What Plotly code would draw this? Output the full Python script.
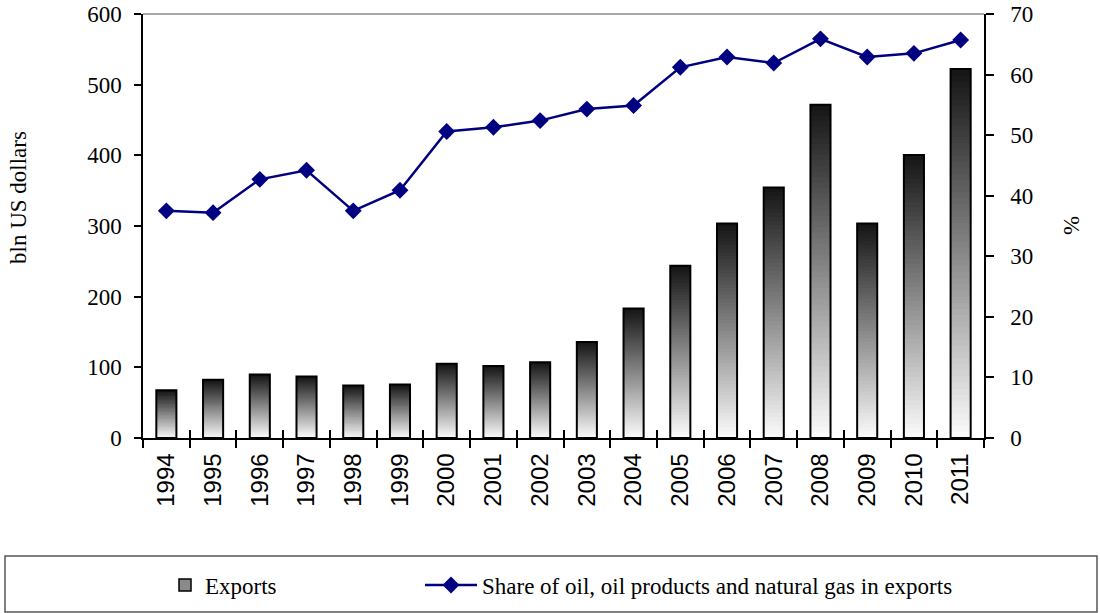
import plotly.graph_objects as go

# Russian exports, bln US dollars, and the share of oil, oil products and gas (%)
years = ["1994", "1995", "1996", "1997", "1998", "1999", "2000", "2001", "2002",
         "2003", "2004", "2005", "2006", "2007", "2008", "2009", "2010", "2011"]
exports = [67.4, 82.4, 89.7, 86.9, 74.4, 75.6, 105.0, 101.9, 107.3,
           135.9, 183.2, 243.8, 303.6, 354.4, 471.6, 303.4, 400.4, 522.0]
oil_gas_share = [37.5, 37.2, 42.7, 44.2, 37.5, 40.9, 50.6, 51.3, 52.4,
                 54.3, 54.9, 61.2, 62.9, 61.9, 65.9, 62.9, 63.5, 65.7]

left_ticks = [0, 100, 200, 300, 400, 500, 600]
right_ticks = [0, 10, 20, 30, 40, 50, 60, 70]

SERIF = "Liberation Serif, Times New Roman, serif"
SANS = "Liberation Sans, Arial, sans-serif"

# figure geometry (pixels)
W, H = 1100, 613
ML, MR, MT, MB = 143, 116, 14, 175
PW, PH = W - ML - MR, H - MT - MB


def px_x(p):
    return (p - ML) / PW


def px_y(p):
    return (H - MB - p) / PH


fig = go.Figure()

# each bar is built from stacked slices so it shades from dark at the top to
# white at the bottom; every slice reaches into the next one to avoid seams
N_SLICES = 60
for k in range(N_SLICES):
    t = (k + 0.5) / N_SLICES
    g = int(round(252 - (252 - 20) * t))
    lo = [v * k / N_SLICES for v in exports]
    hi = [v * min(k + 2, N_SLICES) / N_SLICES for v in exports]
    fig.add_trace(go.Bar(
        x=years,
        y=[h - l for h, l in zip(hi, lo)],
        base=lo,
        marker=dict(color=f"rgb({g},{g},{g})", line=dict(width=0)),
        showlegend=False, hoverinfo="skip",
        xaxis="x", yaxis="y",
    ))

# bar outlines
fig.add_trace(go.Bar(
    x=years, y=exports, base=[0] * len(exports),
    marker=dict(color="rgba(0,0,0,0)", line=dict(color="black", width=2)),
    showlegend=False, name="Exports",
    xaxis="x", yaxis="y",
))

# legend entry for the exports bars
fig.add_trace(go.Bar(
    x=years, y=[None] * len(years), name="Exports",
    marker=dict(color="#8a8a8a", line=dict(color="black", width=1.5)),
    xaxis="x", yaxis="y", legend="legend",
))

fig.add_trace(go.Scatter(
    x=years, y=oil_gas_share,
    name="Share of oil, oil products and natural gas in exports",
    mode="lines+markers",
    line=dict(color="#000080", width=2.5),
    marker=dict(symbol="diamond", size=13, color="#000080"),
    xaxis="x2", yaxis="y2", legend="legend2",
))

legend_common = dict(
    orientation="h", xanchor="left", yanchor="middle",
    xref="container", yref="container",
    y=(H - 585) / H,
    bgcolor="rgba(0,0,0,0)", borderwidth=0,
    font=dict(family=SERIF, size=23, color="black"),
)

x_range = [-0.5, len(years) - 0.5]

fig.update_layout(
    width=W, height=H,
    margin=dict(l=ML, r=MR, t=MT, b=MB, pad=0, autoexpand=False),
    paper_bgcolor="white", plot_bgcolor="white",
    barmode="overlay", bargap=0.57,
    showlegend=True,
    legend=dict(legend_common, x=165 / W),
    legend2=dict(legend_common, x=420 / W, itemwidth=52),
    xaxis=dict(
        type="category", categoryorder="array", categoryarray=years,
        range=x_range, autorange=False,
        showline=True, linecolor="black", linewidth=1.5,
        ticks="outside", ticklen=8, tickwidth=1.5, tickcolor="black",
        tickson="boundaries", tickangle=-90,
        tickfont=dict(family=SANS, size=24, color="black"),
        ticklabelstandoff=4, automargin=False,
        showgrid=False, zeroline=False,
    ),
    xaxis2=dict(
        type="category", categoryorder="array", categoryarray=years,
        range=x_range, autorange=False,
        overlaying="x", anchor="y2", side="bottom",
        showline=False, showticklabels=False,
        ticks="inside", ticklen=8, tickwidth=1.5, tickcolor="black",
        tickson="boundaries", showgrid=False, zeroline=False,
        automargin=False,
    ),
    yaxis=dict(
        range=[0, 600], tickvals=left_ticks,
        showline=True, linecolor="black", linewidth=1.5,
        ticks="outside", ticklen=7, tickwidth=1.5, tickcolor="black",
        tickfont=dict(family=SERIF, size=23, color="black"),
        ticklabelstandoff=8, automargin=False,
        showgrid=False, zeroline=False,
    ),
    yaxis2=dict(
        range=[0, 70], tickvals=right_ticks,
        overlaying="y", side="right", anchor="x2",
        showline=True, linecolor="black", linewidth=1.5,
        ticks="outside", ticklen=8, tickwidth=1.5, tickcolor="black",
        tickfont=dict(family=SERIF, size=23, color="black"),
        ticklabelstandoff=12, automargin=False,
        showgrid=False, zeroline=False,
    ),
    shapes=[
        # top frame edge
        dict(type="line", xref="paper", yref="paper", x0=0, x1=1, y0=1, y1=1,
             line=dict(color="#8c8c8c", width=1.5)),
        # legend frame
        dict(type="rect", xref="paper", yref="paper",
             x0=px_x(5), x1=px_x(1097), y0=px_y(612), y1=px_y(556),
             line=dict(color="#555555", width=1.5), fillcolor="rgba(0,0,0,0)"),
    ],
    annotations=[
        dict(text="bln US dollars", textangle=-90, showarrow=False,
             xref="paper", yref="paper", x=px_x(18), y=px_y(198),
             xanchor="center", yanchor="middle",
             font=dict(family=SERIF, size=23, color="black")),
        dict(text="%", textangle=-90, showarrow=False,
             xref="paper", yref="paper", x=px_x(1071), y=px_y(226),
             xanchor="center", yanchor="middle",
             font=dict(family=SERIF, size=23, color="black")),
    ],
)

fig.write_html("out.html")
